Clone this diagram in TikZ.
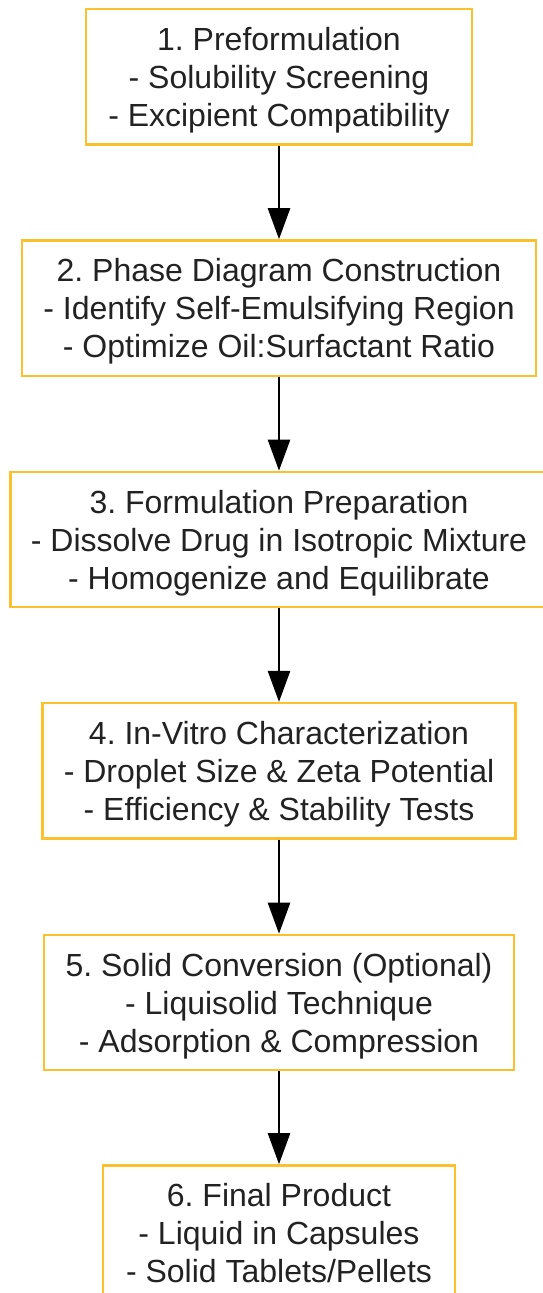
\documentclass[tikz,border=0pt]{standalone}
\usepackage{fontspec}
\setmainfont{Liberation Sans}
\frenchspacing
\usetikzlibrary{arrows.meta}
\definecolor{boxline}{HTML}{FBC02D}
\definecolor{txt}{HTML}{222222}
\newcommand{\topstr}{\rule{0pt}{30pt}}
\newcommand{\botstr}{\rule[-6.4pt]{0pt}{6.4pt}}
\tikzset{
  stepbox/.style={draw=boxline, line width=2.3pt, rectangle, inner sep=0pt,
    minimum height=135.3pt, align=center, text=txt,
    font=\fontsize{32}{38}\selectfont},
  arr/.style={draw=black, line width=2.5pt, -{Triangle[length=31pt,width=22pt]}}
}
\begin{document}
\begin{tikzpicture}[x=1pt,y=-1pt]
\useasboundingbox (0,0) rectangle (543,1293);
\node[stepbox, minimum width=386.6pt] (b1) at (279,76.7)
  {\topstr 1. Preformulation\\- Solubility Screening\\- Excipient Compatibility\botstr};
\node[stepbox, minimum width=514.5pt] (b2) at (279,308)
  {\topstr 2. Phase Diagram Construction\\- Identify Self-Emulsifying Region\\- Optimize Oil:Surfactant Ratio\botstr};
\node[stepbox, minimum width=537pt] (b3) at (279,539.5)
  {\topstr 3. Formulation Preparation\\- Dissolve Drug in Isotropic Mixture\\- Homogenize and Equilibrate\botstr};
\node[stepbox, minimum width=473pt] (b4) at (279,770.7)
  {\topstr 4. In-Vitro Characterization\\- Droplet Size \& Zeta Potential\\- Efficiency \& Stability Tests\botstr};
\node[stepbox, minimum width=470pt] (b5) at (279,1002.5)
  {\topstr 5. Solid Conversion (Optional)\\- Liquisolid Technique\\- Adsorption \& Compression\botstr};
\node[stepbox, minimum width=351.4pt] (b6) at (279,1233)
  {\topstr 6. Final Product\\- Liquid in Capsules\\- Solid Tablets/Pellets\botstr};
\draw[arr] (b1.south) -- (b2.north);
\draw[arr] (b2.south) -- (b3.north);
\draw[arr] (b3.south) -- (b4.north);
\draw[arr] (b4.south) -- (b5.north);
\draw[arr] (b5.south) -- (b6.north);
\end{tikzpicture}
\end{document}
